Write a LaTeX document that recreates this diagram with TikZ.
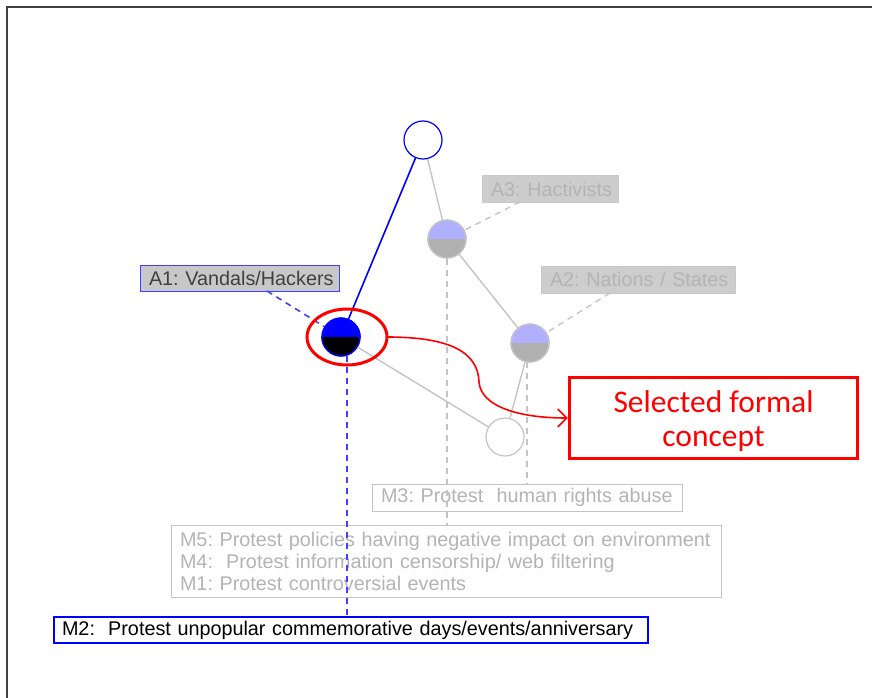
\documentclass[tikz,border=0pt]{standalone}
\usepackage{fontspec}
\setmainfont{Liberation Sans}
\newfontfamily\calib{Carlito}
\usetikzlibrary{arrows.meta}
\frenchspacing
\definecolor{lav}{HTML}{B0B0FF}
\definecolor{midgray}{HTML}{B0B0B0}
\definecolor{lightgray}{HTML}{C8C8C8}
\definecolor{edgegray}{HTML}{C4C4C4}
\definecolor{fainttext}{HTML}{B4B4B4}
\definecolor{selblue}{HTML}{0000FF}
\definecolor{linkblue}{HTML}{4040FF}
\definecolor{hired}{HTML}{FF0000}
\tikzset{
  concept/.style={circle, minimum size=38pt, inner sep=0pt, line width=1.2pt},
  lbl/.style={draw, rectangle, inner xsep=9pt, inner ysep=0pt, align=left,
              font=\fontsize{19.8}{22}\selectfont, line width=1pt},
  faintlbl/.style={lbl, draw=lightgray, fill=lightgray!90, text=fainttext},
  grayedge/.style={draw=edgegray, line width=1.4pt},
  graydash/.style={draw=edgegray, line width=1.4pt, dash pattern=on 6pt off 5pt},
  bluedash/.style={draw=linkblue, line width=1.6pt, dash pattern=on 6pt off 5pt},
}
\begin{document}
\begin{tikzpicture}[x=1pt, y=-1pt]
\useasboundingbox (0,0) rectangle (873,698);
% frame lines
\draw[line width=1.2pt, draw=black!75] (7,698) -- (7,7) -- (872,7);

% concept lattice nodes
\node[concept, draw=selblue, fill=white] (top) at (423,140) {};
\node[concept, draw=edgegray] (a3) at (447,239) {};
\node[concept, draw=edgegray] (a2) at (530,343) {};
\node[concept, draw=selblue] (a1) at (341,337) {};
\node[concept, draw=edgegray, fill=white] (bot) at (505,437) {};

% half-filled concept discs
\foreach \n/\up/\dn in {a3/lav/midgray, a2/lav/midgray, a1/selblue/black}{
  \fill[\up] (\n.east) arc[start angle=0, end angle=180, radius=19pt] -- cycle;
  \fill[\dn] (\n.west) arc[start angle=180, end angle=360, radius=19pt] -- cycle;
}
\draw[edgegray, line width=1.2pt] (a3) circle[radius=19pt];
\draw[edgegray, line width=1.2pt] (a2) circle[radius=19pt];
\draw[selblue, line width=1.2pt] (a1) circle[radius=19pt];

% lattice edges
\draw[draw=selblue, line width=1.6pt] (top) -- (a1);
\draw[grayedge] (top) -- (a3);
\draw[grayedge] (a3) -- (a2);
\draw[grayedge] (a1) -- (bot);
\draw[grayedge] (a2) -- (bot);

% attribute labels
\node[lbl, draw=linkblue, fill=lightgray, text=black!75, text width=181pt, minimum height=26pt] (la1) at (239.5,278) {\mbox{A1: Vandals/Hackers}};
\node[faintlbl, text width=118pt, minimum height=26pt] (la3) at (550,189) {\mbox{A3: Hactivists}};
\node[faintlbl, text width=176pt, minimum height=27pt] (la2) at (638,279.5) {\mbox{A2: Nations / States}};

% object labels
\node[lbl, draw=edgegray, fill=white, text=fainttext, text width=292pt, minimum height=27pt] (lm3) at (527,497.5) {\mbox{M3: Protest\ \ human rights abuse}};
\node[lbl, draw=edgegray, fill=white, text=fainttext, text width=532pt, minimum height=72pt] (lm5) at (446,561)
  {\mbox{M5: Protest policies having negative impact on environment}\\\mbox{M4:\ \ Protest information censorship/ web filtering}\\\mbox{M1: Protest controversial events}};
\node[lbl, draw=selblue, fill=white, text=black, inner xsep=8pt, text width=578pt, minimum height=26pt, line width=1.6pt] (lm2) at (351,630) {\mbox{M2:\ \ Protest unpopular commemorative days/events/anniversary}};

% dashed label connectors
\coordinate (la1end) at (267,291);
\draw[bluedash] (la1end) -- (a1);
\coordinate (la3end) at (520,202);
\draw[graydash] (la3end) -- (a3);
\coordinate (la2end) at (610,293);
\draw[graydash] (la2end) -- (a2);
\draw[graydash] (a3.south) -- (a3.south |- lm5.north);
\draw[graydash] (527,362) -- (527,484);
\draw[bluedash] (347,356) -- (347,617);

% highlight of the selected concept
\draw[hired, line width=3pt] (347,337) ellipse[x radius=40pt, y radius=28pt];
\node[draw=hired, line width=3.2pt, fill=white, minimum width=288pt, minimum height=81pt, inner sep=0pt, text=hired, font=\calib\fontsize{31.5}{34}\selectfont] (sel) at (713.5,418)
  {\raisebox{-5pt}[\height][\depth]{\begin{tabular}{@{}c@{}}Selected formal\\concept\end{tabular}}};
\coordinate (ellr) at (387,337);
\draw[hired, line width=1.6pt, -{Straight Barb[length=9pt, width=18pt]}] (ellr) .. controls (450,337) and (478,352) .. (479,382) .. controls (481,407) and (520,418) .. (sel.west);
\end{tikzpicture}
\end{document}
